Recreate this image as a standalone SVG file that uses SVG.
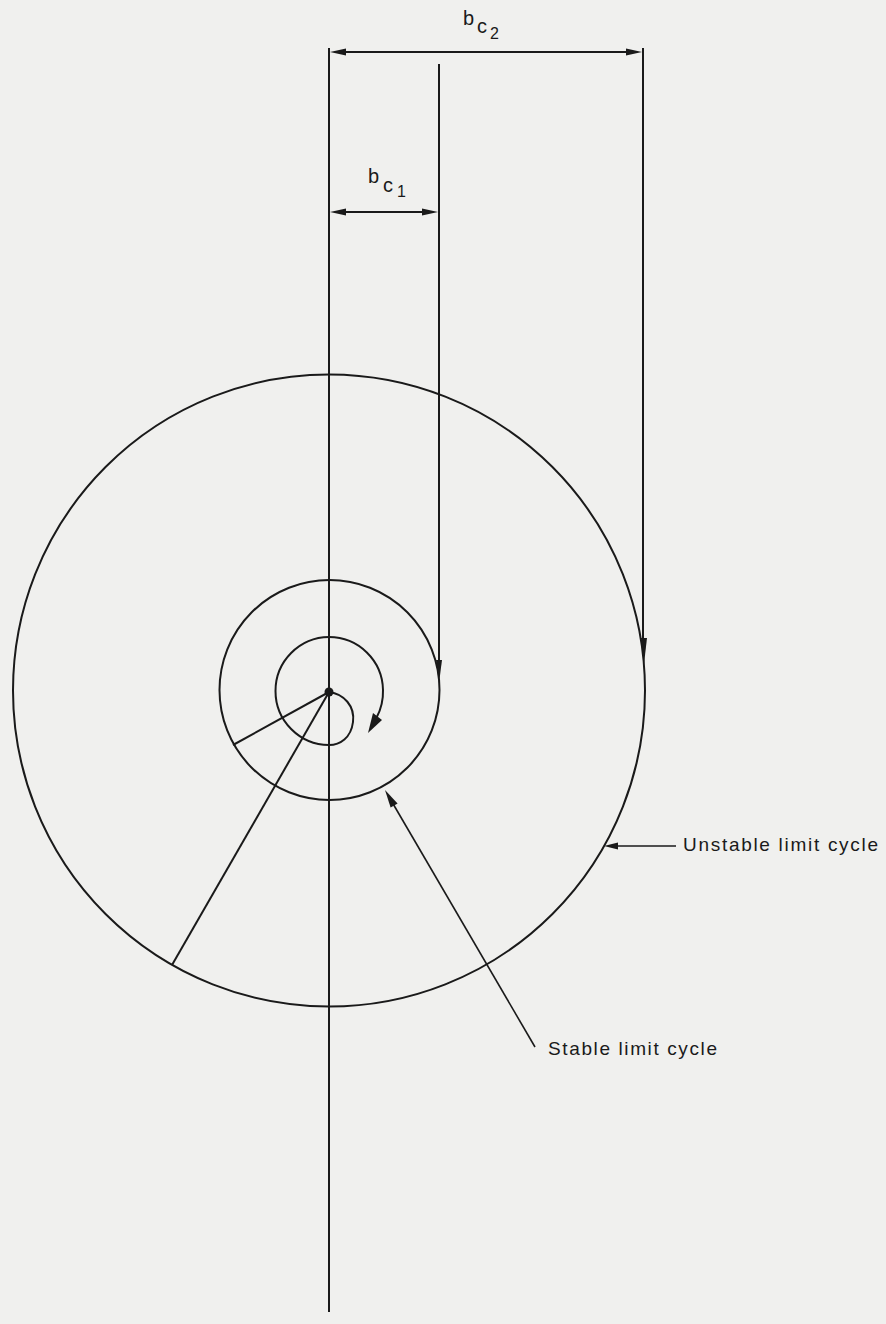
<svg xmlns="http://www.w3.org/2000/svg" width="886" height="1324" viewBox="0 0 886 1324">
<style>
.ln{fill:none;stroke:#1a1a1a;stroke-width:2}
.fl{fill:#1a1a1a;stroke:none}
.tx{font-family:"Liberation Sans",Arial,sans-serif;fill:#1a1a1a}
</style>
<rect width="886" height="1324" fill="#f0f0ee"/>
<g id="axis">
<line class="ln" x1="329" y1="48" x2="329" y2="1312"/>
</g>
<g id="unstable-cycle">
<circle class="ln" cx="329" cy="690.5" r="316"/>
</g>
<g id="stable-cycle">
<circle class="ln" cx="329.5" cy="690" r="110"/>
</g>
<g id="spiral">
<path class="ln" d="M329,692 C344,694 355,706 353,722 C351,738 340,745 329,745 A54,54 0 0 1 275.5,691 A54,54 0 0 1 329,637 A54,54 0 0 1 383,690 A55,55 0 0 1 376.6,717.5"/>
<polygon class="fl" points="368,733 373,713 382,720"/>
<circle class="fl" cx="329" cy="692" r="4.5"/>
</g>
<g id="radii">
<line class="ln" x1="329" y1="692" x2="233" y2="745"/>
<line class="ln" x1="329" y1="692" x2="172" y2="965"/>
</g>
<g id="connectors">
<line class="ln" x1="439" y1="64" x2="439" y2="662"/>
<polygon class="fl" points="439,683 436,660 442,660"/>
<line class="ln" x1="643" y1="48" x2="643" y2="642"/>
<polygon class="fl" points="644,664 641,638 647,638"/>
<line class="ln" x1="340" y1="52" x2="632" y2="52"/>
<polygon class="fl" points="330,52 346,48.5 346,55.5"/>
<polygon class="fl" points="642,52 626,48.5 626,55.5"/>
<line class="ln" x1="340" y1="212" x2="428" y2="212"/>
<polygon class="fl" points="330,212 346,208.5 346,215.5"/>
<polygon class="fl" points="438,212 422,208.5 422,215.5"/>
<line class="ln" x1="392" y1="802" x2="535" y2="1047" style="stroke-width:1.6"/>
<polygon class="fl" points="385,790 397.6,803.5 390.6,807.5"/>
<line class="ln" x1="614" y1="846" x2="676" y2="846" style="stroke-width:1.6"/>
<polygon class="fl" points="604,846 618,842.5 618,849.5"/>
</g>
<g id="label-bc2">
<text class="tx" x="463" y="25" font-size="20">b</text>
<text class="tx" x="477" y="33" font-size="20">c</text>
<text class="tx" x="490" y="39" font-size="16">2</text>
</g>
<g id="label-bc1">
<text class="tx" x="368" y="183" font-size="20">b</text>
<text class="tx" x="383" y="192" font-size="20">c</text>
<text class="tx" x="397" y="197" font-size="16">1</text>
</g>
<g id="label-unstable">
<text class="tx" x="683" y="851" font-size="19" textLength="195" lengthAdjust="spacing">Unstable limit cycle</text>
</g>
<g id="label-stable">
<text class="tx" x="548" y="1055" font-size="19" textLength="169" lengthAdjust="spacing">Stable limit cycle</text>
</g>
</svg>
